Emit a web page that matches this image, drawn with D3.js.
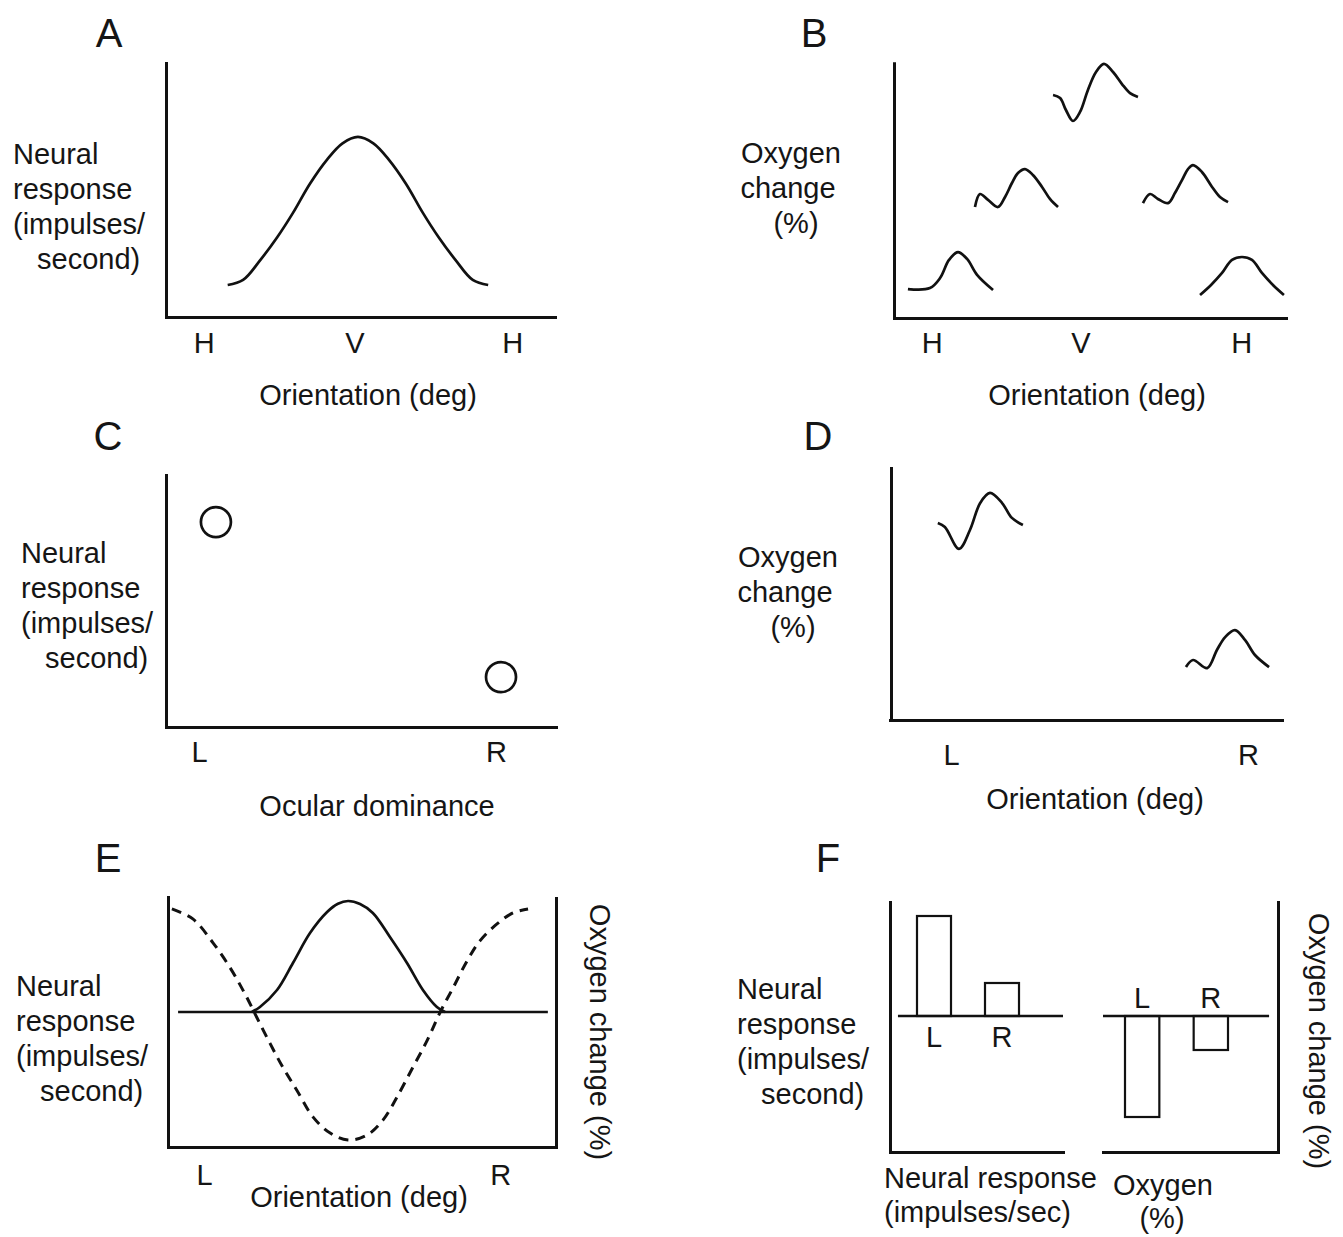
<!DOCTYPE html>
<html>
<head>
<meta charset="utf-8">
<script src="https://cdn.jsdelivr.net/npm/d3@7"></script>
<style>
  body { margin: 0; background: #fff; }
  svg { display: block; background: #fff; }
  text { font-family: "Liberation Sans", Arial, sans-serif; font-size: 29px; fill: #151515; }
  .letter { font-size: 40px; }
  .axis path { stroke: #111; stroke-width: 3; stroke-linecap: square; }
  .axis text { font-family: "Liberation Sans", Arial, sans-serif; font-size: 29px; fill: #151515; }
  .curve { fill: none; stroke: #111; stroke-width: 2.7; }
  .dashed { stroke-width: 3; stroke-dasharray: 10 7; }
  .bar { fill: none; stroke: #111; stroke-width: 2.2; }
</style>
</head>
<body>
<svg class="chart" width="1343" height="1237"></svg>
<script>
// panel A: orientation tuning of one cell
const orientationTicks = [0, 88, 180];
const orientationTicksB = [0, 86.5, 180];
const orientationLabels = ['H', 'V', 'H'];
const tuningDeg = [14, 23, 33, 43, 52, 62, 72, 81, 90, 99, 108, 118, 128, 137, 147, 157, 166];
const tuningResponse = [12.6, 14.6, 22.4, 31.5, 40.9, 52.5, 62.0, 68.4, 70.9, 68.4, 62.0, 52.5, 40.9, 31.5, 22.4, 14.6, 12.6];

// panel B: oxygen time courses, one per orientation column
const waveHDeg = [-13.9, -1.1, 4.8, 10, 15.2, 20.5, 26.3, 35.6];
const waveHVal = [11.8, 12.2, 16.3, 23.7, 26.9, 24.1, 17.6, 11.4];
const waveObl1Deg = [25.1, 28.0, 32.7, 38.5, 42.6, 46.6, 50.1, 54.2, 58.8, 64.1, 68.7, 73.4];
const waveObl1Val = [45.3, 50.6, 48.2, 45.3, 49.4, 55.1, 59.2, 60.8, 58.4, 53.5, 48.6, 45.3];
const waveVDeg = [70.5, 74.6, 78.0, 82.1, 86.2, 90.8, 95.5, 100.1, 105.4, 110.6, 115.3, 119.9];
const waveVVal = [91.0, 89.8, 84.9, 80.4, 84.1, 93.1, 100.4, 103.7, 100.4, 95.5, 91.8, 90.2];
const waveObl2Deg = [122.8, 126.9, 131.5, 137.4, 141.4, 145.5, 149.0, 151.9, 157.1, 163.0, 167.6, 172.3];
const waveObl2Val = [46.9, 50.6, 48.6, 46.9, 51.0, 56.3, 60.8, 62.4, 59.6, 53.5, 49.4, 47.3];
const waveH2Deg = [156.0, 162.4, 168.8, 174.6, 180.4, 186.2, 192.0, 198.4, 204.8];
const waveH2Val = [9.4, 13.5, 18.4, 23.7, 24.9, 23.7, 18.4, 13.5, 9.4];

// panel C: ocular dominance of two cells
const eyeLabels = ['L', 'R'];
const eyeTicksC = [8.5, 84.6];
const cellEye = [12.8, 85.9];
const cellResponse = [81.3, 19.8];

// panel D: oxygen time courses for the two eyes
const eyeTicksD = [15.6, 91.3];
const waveLX = [12.2, 14.0, 17.6, 20.4, 23.0, 25.5, 28.6, 31.1, 33.9];
const waveLY = [78.2, 76.6, 67.9, 75.4, 86.1, 90.1, 86.1, 80.2, 77.4];
const waveRX = [75.5, 77.3, 80.9, 83.4, 85.5, 88.0, 90.6, 93.1, 96.7];
const waveRY = [21.0, 23.8, 20.6, 27.8, 32.9, 35.7, 31.7, 25.8, 21.0];

// panel E: neural response (solid) vs oxygen change (dashed)
const eyeTicksE = [9.3, 85.6];
const baselineE = [2.6, 97.9];
const neuralX = [21.6, 23.7, 28.1, 32.2, 36.6, 41.0, 43.8, 46.4, 49.5, 52.8, 57.2, 61.6, 65.7, 69.3, 71.4];
const neuralY = [0, 2.0, 8.8, 19.6, 31.6, 40.0, 43.3, 44.4, 43.2, 39.6, 30.0, 19.6, 8.8, 2.0, 0];
const oxygenX = [1.0, 6.4, 11.6, 16.0, 19.8, 22.9, 26.3, 29.6, 33.2, 37.4, 41.8, 46.4, 51.3, 55.4, 59.0, 63.1, 66.8, 70.1, 73.5, 77.1, 80.4, 84.8, 88.9, 92.8];
const oxygenY = [41.6, 37.6, 28.0, 18.0, 7.6, -2.0, -12.4, -22.0, -31.2, -42.0, -48.4, -51.2, -49.2, -43.2, -34.0, -22.0, -11.2, 0, 10.0, 20.8, 28.8, 35.6, 40.0, 41.6];

// panel F: bar summary
const neuralBars = [40, 13.2];
const oxygenBars = [-40.4, -13.6];
const zeroNeural = [4.6, 100];
const zeroOxygen = [0, 94.9];

const neuralLines = ['Neural', 'response', '(impulses/', 'second)'];
const neuralIndent = [0, 0, 0, 24];
const oxygenLines = ['Oxygen', 'change', '(%)'];
const oxygenShift = [0, -3, 5];

const svg = d3.select('.chart');

function bottomAxis(x, y, values, labels, pad) {
  svg.append('g')
    .attr('class', 'axis')
    .attr('transform', 'translate(0,' + y.range()[0] + ')')
    .call(d3.axisBottom(x).tickValues(values).tickFormat((d, i) => labels[i]).tickSize(0).tickPadding(pad));
}

function sideAxis(y, x, right) {
  const axis = right ? d3.axisRight(y) : d3.axisLeft(y);
  svg.append('g')
    .attr('class', 'axis')
    .attr('transform', 'translate(' + x + ',0)')
    .call(axis.tickValues([]).tickSize(0));
}

function curve(x, y, xs, ys, cls) {
  const line = d3.line().x(d => x(d[0])).y(d => y(d[1])).curve(d3.curveCatmullRom.alpha(0.5));
  svg.append('path')
    .datum(d3.zip(xs, ys))
    .attr('class', 'curve' + (cls ? ' ' + cls : ''))
    .attr('d', line);
}

function neuralLabel(x0, y0) {
  svg.append('g').selectAll('text')
      .data(neuralLines)
    .enter().append('text')
      .attr('x', (d, i) => x0 + neuralIndent[i])
      .attr('y', (d, i) => y0 + i * 35)
      .text(d => d);
}

function oxygenLabel(cx, y0) {
  svg.append('g').selectAll('text')
      .data(oxygenLines)
    .enter().append('text')
      .attr('text-anchor', 'middle')
      .attr('x', (d, i) => cx + oxygenShift[i])
      .attr('y', (d, i) => y0 + i * 35)
      .text(d => d);
}

function label(str, x, y, anchor, cls) {
  svg.append('text')
    .attr('class', cls || null)
    .attr('x', x).attr('y', y)
    .attr('text-anchor', anchor || 'middle')
    .text(str);
}

function rotatedLabel(str, x, y) {
  svg.append('text')
    .attr('transform', 'translate(' + x + ',' + y + ') rotate(90)')
    .attr('text-anchor', 'middle')
    .text(str);
}

// ---- A ----
const xA = d3.scaleLinear().domain([-22, 205]).range([166, 555]);
const yA = d3.scaleLinear().domain([0, 100]).range([317, 63]);
sideAxis(yA, 166);
bottomAxis(xA, yA, orientationTicks, orientationLabels, 15.4);
curve(xA, yA, tuningDeg, tuningResponse);
label('A', 109, 47, 'middle', 'letter');
neuralLabel(13, 164);
label('Orientation (deg)', 368, 405);

// ---- B ----
const xB = d3.scaleLinear().domain([-22, 206]).range([894, 1286]);
const yB = d3.scaleLinear().domain([0, 104]).range([318, 63.2]);
sideAxis(yB, 894);
bottomAxis(xB, yB, orientationTicksB, orientationLabels, 14.4);
[[waveHDeg, waveHVal], [waveObl1Deg, waveObl1Val], [waveVDeg, waveVVal],
 [waveObl2Deg, waveObl2Val], [waveH2Deg, waveH2Val]]
  .forEach(w => curve(xB, yB, w[0], w[1]));
label('B', 814, 47, 'middle', 'letter');
oxygenLabel(791, 163);
label('Orientation (deg)', 1097, 405);

// ---- C ----
const xC = d3.scaleLinear().domain([0, 100]).range([166, 556]);
const yC = d3.scaleLinear().domain([0, 100]).range([727, 475]);
sideAxis(yC, 166);
bottomAxis(xC, yC, eyeTicksC, eyeLabels, 14.4);
svg.selectAll('.cell')
    .data(d3.zip(cellEye, cellResponse))
  .enter().append('circle')
    .attr('class', 'curve')
    .attr('cx', d => xC(d[0]))
    .attr('cy', d => yC(d[1]))
    .attr('r', 15);
label('C', 108, 450, 'middle', 'letter');
neuralLabel(21, 563);
label('Ocular dominance', 377, 816);

// ---- D ----
const xD = d3.scaleLinear().domain([0, 100]).range([890, 1282]);
const yD = d3.scaleLinear().domain([0, 100]).range([720, 468]);
sideAxis(yD, 891);
bottomAxis(xD, yD, eyeTicksD, eyeLabels, 24.4);
curve(xD, yD, waveLX, waveLY);
curve(xD, yD, waveRX, waveRY);
label('D', 818, 450, 'middle', 'letter');
oxygenLabel(788, 567);
label('Orientation (deg)', 1095, 809);

// ---- E ----
const xE = d3.scaleLinear().domain([0, 100]).range([168, 556]);
const yE = d3.scaleLinear().domain([-54, 46]).range([1147, 897]);
const yE2 = d3.scaleLinear().domain([-54, 46]).range([1147, 898]);
sideAxis(yE, 168);
sideAxis(yE2, 556, true);
bottomAxis(xE, yE, eyeTicksE, eyeLabels, 17.4);
curve(xE, yE, baselineE, [0, 0]);
curve(xE, yE, neuralX, neuralY);
curve(xE, yE2, oxygenX, oxygenY, 'dashed');
label('E', 108, 872, 'middle', 'letter');
neuralLabel(16, 996);
label('Orientation (deg)', 359, 1207);
rotatedLabel('Oxygen change (%)', 590, 1032);

// ---- F ----
const yF = d3.scaleLinear().domain([-54.4, 45.6]).range([1152, 902]);
const xFn = d3.scaleLinear().domain([0, 100]).range([890, 1063]);
const xFo = d3.scaleLinear().domain([0, 100]).range([1103, 1278]);
const bandN = d3.scaleBand().domain(eyeLabels).range([917, 1019]).paddingInner(0.5);
const bandO = d3.scaleBand().domain(eyeLabels).range([1125, 1228]).paddingInner(0.5);

sideAxis(yF, 890);
sideAxis(yF, 1278, true);
bottomAxis(xFn, yF, [], [], 0);
bottomAxis(xFo, yF, [], [], 0);
curve(xFn, yF, zeroNeural, [0, 0]);
curve(xFo, yF, zeroOxygen, [0, 0]);

svg.selectAll('.barN')
    .data(neuralBars)
  .enter().append('rect')
    .attr('class', 'bar')
    .attr('x', (d, i) => bandN(eyeLabels[i]))
    .attr('width', bandN.bandwidth())
    .attr('y', d => Math.min(yF(d), yF(0)))
    .attr('height', d => Math.abs(yF(d) - yF(0)));

svg.selectAll('.barO')
    .data(oxygenBars)
  .enter().append('rect')
    .attr('class', 'bar')
    .attr('x', (d, i) => bandO(eyeLabels[i]))
    .attr('width', bandO.bandwidth())
    .attr('y', d => Math.min(yF(d), yF(0)))
    .attr('height', d => Math.abs(yF(d) - yF(0)));

svg.append('g')
    .attr('class', 'axis')
    .attr('transform', 'translate(0,' + yF(0) + ')')
    .call(d3.axisBottom(bandN).tickSize(0).tickPadding(10.4))
    .call(g => g.select('.domain').remove());

svg.append('g')
    .attr('class', 'axis')
    .attr('transform', 'translate(0,' + yF(0) + ')')
    .call(d3.axisTop(bandO).tickSize(0).tickPadding(8))
    .call(g => g.select('.domain').remove());

label('F', 828, 872, 'middle', 'letter');
neuralLabel(737, 999);
label('Neural response', 884, 1188, 'start');
label('(impulses/sec)', 884, 1222, 'start');
label('Oxygen', 1113, 1195, 'start');
label('(%)', 1162, 1228);
rotatedLabel('Oxygen change (%)', 1309, 1041);
</script>
</body>
</html>
